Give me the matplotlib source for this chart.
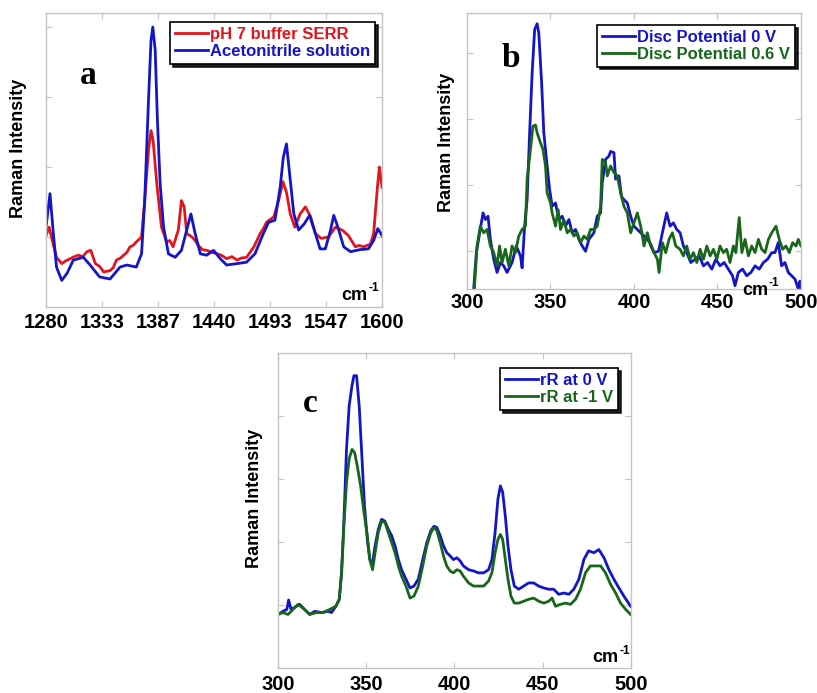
import numpy as np
import matplotlib
matplotlib.use("Agg")
import matplotlib.pyplot as plt

plt.rcParams['font.family'] = ['Liberation Sans', 'DejaVu Sans']

# ---------------- panel a ----------------
a_blue_x = [1280, 1283.8, 1287, 1290, 1295, 1300, 1306, 1315.6, 1322, 1331, 1341, 1350.5, 1357,
            1366, 1371, 1374, 1377.6, 1380, 1381.7, 1384, 1386, 1388.7, 1392, 1396.6, 1403, 1409,
            1414, 1418, 1422, 1427, 1433, 1439.5, 1446, 1452, 1462, 1471, 1479, 1487, 1492, 1498,
            1503, 1506, 1509, 1512, 1516, 1520.6, 1526, 1531, 1536.5, 1541, 1546, 1551, 1554, 1558,
            1563.5, 1570, 1579, 1587, 1592, 1596, 1600]
a_blue_y = [1.14, 1.62, 1.05, 0.57, 0.38, 0.48, 0.67, 0.71, 0.60, 0.43, 0.40, 0.57, 0.60,
            0.57, 0.76, 1.52, 2.95, 3.81, 4.00, 3.67, 2.71, 1.76, 1.14, 0.76, 0.71, 0.81,
            1.10, 1.33, 1.05, 0.76, 0.74, 0.81, 0.69, 0.60, 0.62, 0.64, 0.76, 1.05, 1.21, 1.24,
            1.71, 2.14, 2.33, 1.90, 1.33, 1.10, 1.19, 1.31, 1.05, 0.83, 0.83, 1.10, 1.31, 1.14,
            0.86, 0.79, 0.82, 0.83, 0.95, 1.12, 1.02]

a_red_x = [1280, 1283, 1286, 1290, 1295, 1299, 1303, 1307, 1311, 1315, 1319, 1322.6, 1327, 1331,
           1335, 1341, 1344, 1347, 1351, 1354, 1357, 1360, 1363, 1366, 1371, 1374, 1377.6, 1380,
           1382, 1385.5, 1390, 1395, 1398, 1401, 1406, 1409, 1411.6, 1414, 1419, 1422, 1425, 1429,
           1433, 1438, 1443, 1447, 1452, 1457, 1462, 1466, 1471, 1478, 1484, 1487, 1490, 1497,
           1501.5, 1505.6, 1509, 1512.6, 1517, 1522, 1527, 1532, 1536.5, 1542, 1549, 1555.5, 1562,
           1565, 1568, 1574.6, 1578, 1582.6, 1589, 1592, 1595.6, 1597.5, 1600]
a_red_y = [1.02, 1.14, 0.95, 0.71, 0.62, 0.66, 0.69, 0.72, 0.74, 0.72, 0.79, 0.81, 0.62, 0.58,
           0.50, 0.52, 0.56, 0.67, 0.70, 0.74, 0.78, 0.86, 0.88, 0.93, 1.00, 1.52, 2.24, 2.52,
           2.38, 1.76, 1.14, 0.93, 0.95, 0.86, 1.10, 1.52, 1.43, 1.05, 1.00, 0.95, 0.88, 0.82,
           0.81, 0.78, 0.76, 0.74, 0.69, 0.72, 0.67, 0.70, 0.71, 0.86, 1.05, 1.12, 1.21, 1.29,
           1.52, 1.79, 1.64, 1.33, 1.14, 1.33, 1.43, 1.29, 1.05, 0.98, 1.00, 1.14, 1.10,
           1.06, 1.02, 0.86, 0.88, 0.86, 0.90, 1.05, 1.71, 2.00, 1.71]

# ---------------- panel b ----------------
b_blue_x = [304, 305.6, 307.6, 309.6, 311, 312.6, 314, 316, 318, 320, 322, 324, 327, 329.5, 332,
            333, 334.5, 336, 337.5, 339, 340.5, 342, 343, 344.7, 346, 348, 349.5, 351, 353, 355,
            357, 359, 361, 363, 365, 367, 369, 371, 373, 376, 378, 380, 381, 383, 385, 386, 388,
            389, 391, 392.5, 394, 396, 398, 400, 402, 404, 406, 408, 410, 412, 414.7, 417, 419.6,
            421.6, 423.6, 425.6, 427.6, 429.6, 431.6, 434, 436.6, 439, 441.6, 444, 446.6, 449,
            451.5, 454, 456.5, 459, 460.5, 462.5, 465, 467.5, 470, 472.5, 475, 477.5, 480, 482.5,
            484.4, 486.4, 488.4, 490.4, 492.4, 494.4, 496.4, 498.4, 499.4, 500]
b_blue_y = [0.43, 0.98, 1.28, 1.58, 1.48, 1.53, 1.18, 0.88, 0.68, 0.83, 0.78, 0.68, 0.83, 1.08, 0.93,
            0.75, 1.38, 1.78, 2.79, 3.69, 4.35, 4.44, 4.30, 3.54, 2.79, 2.29, 1.93, 1.68, 1.73, 1.48,
            1.53, 1.38, 1.48, 1.28, 1.33, 1.18, 1.08, 1.00, 1.18, 1.28, 1.53, 1.58, 2.04, 2.39, 2.44,
            2.51, 2.49, 2.09, 2.14, 1.83, 1.78, 1.73, 1.53, 1.38, 1.33, 1.28, 1.23, 1.18, 1.11,
            0.98, 1.00, 1.28, 1.58, 1.38, 1.43, 1.33, 1.28, 1.08, 0.98, 0.83, 0.88, 0.93, 0.78,
            0.83, 0.73, 0.88, 0.78, 0.83, 0.73, 0.63, 0.48, 0.68, 0.73, 0.63, 0.68, 0.78, 0.73,
            0.83, 0.88, 0.98, 0.98, 1.13, 0.78, 0.83, 0.68, 0.63, 0.58, 0.43, 0.55, 0.43]

b_green_x = [304.4, 306, 308, 310, 312, 314, 316, 318, 319.5, 321, 323, 325, 327, 329, 331, 333, 335,
             336, 338, 339.5, 341, 342, 344, 345.5, 347, 348, 350, 351, 353, 354.6, 356, 358, 360,
             362, 364, 366, 368, 370, 372, 374, 376, 378, 380, 381, 383, 384, 386, 388, 390, 392,
             394, 396, 398, 400, 402, 404, 406, 408, 410, 412, 414, 415, 417, 419, 421, 423, 425,
             427.6, 429.6, 431.6, 433.6, 435.6, 437.6, 439.6, 441.6, 443.6, 445.6, 447.6, 449.6,
             451.5, 453.5, 455.5, 457.5, 459.5, 461, 463, 464.6, 466.5, 468.5, 470.5, 472.5, 474.5,
             476.5, 478.5, 480.5, 482.5, 485, 487, 489, 491, 493, 495, 497, 498.4, 500]
b_green_y = [0.43, 1.08, 1.38, 1.28, 1.33, 1.08, 0.98, 0.78, 1.08, 0.83, 1.03, 0.78, 1.08, 0.98, 1.23,
             1.33, 1.38, 2.09, 2.54, 2.89, 2.91, 2.79, 2.64, 2.54, 2.29, 1.88, 1.73, 1.58, 1.38,
             1.63, 1.33, 1.48, 1.28, 1.33, 1.23, 1.28, 1.13, 1.23, 1.18, 1.33, 1.33, 1.38, 1.68,
             2.39, 2.34, 2.14, 2.29, 2.19, 2.14, 1.88, 1.68, 1.58, 1.28, 1.43, 1.58, 1.38, 1.08,
             1.28, 1.08, 0.98, 0.88, 0.68, 1.13, 0.98, 1.18, 1.28, 1.08, 1.03, 0.93, 1.08, 0.88,
             0.98, 0.83, 1.03, 0.88, 1.08, 0.93, 1.03, 0.88, 1.08, 0.98, 1.03, 0.83, 1.08, 0.98,
             1.51, 0.98, 1.18, 0.93, 1.08, 0.98, 1.18, 1.03, 0.98, 1.18, 1.28, 1.38, 1.18, 1.03,
             1.08, 0.98, 1.13, 1.08, 1.18, 1.08]

# ---------------- panel c ----------------
c_blue_x = [300, 302.8, 305, 306, 307.4, 310.4, 312.3, 315, 318, 320.8, 324.6, 328.4, 330.3, 332.8,
            334.7, 336, 337.3, 338.8, 340.3, 341.9, 343, 344.5, 346, 347.5, 349, 350.6, 352, 353.6,
            355, 356.8, 358.7, 360.6, 362.5, 364.4, 366.3, 368.2, 370, 372.5, 374.8, 377, 379.5,
            382, 384.3, 386.6, 388.4, 390, 391.9, 393.75, 395.6, 397.5, 399.4, 401.3, 403.2, 405,
            408, 410.8, 413.6, 416.5, 419.3, 421.2, 423, 424.6, 426, 427.3, 428.8, 430.3, 432,
            433.9, 436.4, 439.2, 442, 444.9, 447.7, 450.6, 453.4, 456.25, 459, 462, 464.8, 467.6,
            470.5, 473.3, 476, 479, 481.8, 484.7, 487.5, 490.3, 493.2, 496, 499.8]
c_blue_y = [0.85, 0.90, 0.93, 1.08, 0.93, 0.98, 1.01, 0.93, 0.85, 0.90, 0.88, 0.90, 0.88, 0.98,
            1.09, 1.51, 2.31, 3.47, 4.16, 4.48, 4.64, 4.64, 4.16, 3.37, 2.57, 2.04, 1.72, 1.67,
            1.94, 2.20, 2.36, 2.33, 2.20, 2.10, 1.94, 1.72, 1.56, 1.41, 1.27, 1.30, 1.41,
            1.72, 1.99, 2.18, 2.25, 2.23, 2.10, 1.94, 1.83, 1.78, 1.72, 1.75, 1.70, 1.62,
            1.56, 1.54, 1.51, 1.51, 1.56, 1.72, 2.15, 2.68, 2.89, 2.79, 2.41, 1.94, 1.56,
            1.30, 1.25, 1.30, 1.35, 1.35, 1.30, 1.27, 1.25, 1.25, 1.17, 1.19, 1.17, 1.25,
            1.41, 1.72, 1.86, 1.83, 1.88, 1.75, 1.56, 1.41, 1.27, 1.14, 0.98]

c_green_x = [300, 302.8, 305.7, 308.5, 311.4, 314.2, 318, 321.8, 325.6, 329.4, 332.8, 334.7, 336,
             337.3, 338.8, 340.3, 341.9, 343.4, 344.9, 346.8, 348.7, 350.6, 352, 353.6, 355, 356.8,
             358.7, 360.6, 362.5, 364.4, 366.3, 368.2, 370, 372.5, 374.8, 377, 379.5, 382, 384.3,
             386.6, 388.4, 390, 391.9, 393.75, 395.6, 397.5, 399.4, 401.3, 403.2, 405, 408, 410.8,
             413.6, 416.5, 419.3, 421.2, 423, 424.6, 426, 427.3, 428.8, 430.3, 432, 433.9, 436.4,
             439.2, 442, 444.9, 447.7, 450.6, 453.4, 455.3, 457.2, 460, 462.9, 465.7, 468.6, 471.4,
             474.2, 477, 480, 482.8, 485.6, 488.4, 491.3, 494.1, 497, 499.8]
c_green_y = [0.85, 0.88, 0.85, 0.93, 1.01, 0.95, 0.85, 0.88, 0.88, 0.93, 0.98, 1.09, 1.51,
             2.25, 2.94, 3.32, 3.47, 3.42, 3.21, 2.89, 2.47, 2.10, 1.72, 1.56, 1.83, 2.15,
             2.33, 2.31, 2.15, 1.99, 1.83, 1.62, 1.46, 1.30, 1.11, 1.14, 1.30, 1.62, 1.94,
             2.15, 2.23, 2.18, 1.99, 1.78, 1.62, 1.54, 1.51, 1.56, 1.54, 1.46, 1.35, 1.30,
             1.30, 1.30, 1.38, 1.51, 1.83, 2.04, 2.12, 2.04, 1.72, 1.41, 1.14, 1.03, 1.03,
             1.06, 1.09, 1.11, 1.06, 1.03, 1.06, 1.11, 0.98, 1.01, 1.03, 1.01, 1.09, 1.25,
             1.51, 1.62, 1.62, 1.62, 1.51, 1.33, 1.19, 1.03, 0.93, 0.85]

RED = '#e3141b'
BLUE = '#1414c8'
GREEN = '#17661a'
SPINE = '#c4c4c4'

fig = plt.figure(figsize=(8.17, 6.93), dpi=100)
ax_a = fig.add_axes([0.0563, 0.557, 0.4113, 0.4242])
ax_b = fig.add_axes([0.5716, 0.583, 0.4088, 0.398])
ax_c = fig.add_axes([0.3403, 0.0361, 0.432, 0.4545])


def style(ax, pad):
    for s in ax.spines.values():
        s.set_color(SPINE)
        s.set_linewidth(1.0)
    ax.tick_params(direction='in', length=4, width=0.8, color=SPINE,
                   top=True, right=True, labelleft=False, pad=pad,
                   labelsize=14.5)
    for t in ax.get_xticklabels():
        t.set_fontweight('bold')


def unit_label(ax, x, y):
    # "cm" with a small "-1" superscript, right-aligned at (x, y)
    ax.annotate('-1', (x, y), xycoords='axes fraction', xytext=(0, 7),
                textcoords='offset points', ha='right', va='bottom',
                fontsize=8.5, fontweight='bold')
    ax.annotate('cm', (x, y), xycoords='axes fraction', xytext=(-8, 0),
                textcoords='offset points', ha='right', va='bottom',
                fontsize=13, fontweight='bold')


# panel a
ax_a.plot(a_red_x, a_red_y, color=RED, lw=2.0, label='pH 7 buffer SERR')
ax_a.plot(a_blue_x, a_blue_y, color=BLUE, lw=2.0, label='Acetonitrile solution')
ax_a.set_xlim(1280, 1600)
ax_a.set_ylim(0, 4.2)
a_ticks = np.linspace(1280, 1600, 7)
ax_a.set_xticks(a_ticks)
ax_a.set_xticklabels([str(int(round(t))) for t in a_ticks])
ax_a.set_yticks([1, 2, 3, 4])
style(ax_a, 4.5)
ax_a.set_ylabel('Raman Intensity', fontsize=13, fontweight='bold')
ax_a.yaxis.set_label_coords(-0.057, 0.54)
ax_a.text(0.125, 0.786, 'a', transform=ax_a.transAxes, family='Liberation Serif',
          fontsize=24, fontweight='bold', ha='center', va='center')
unit_label(ax_a, 0.99, 0.01)

# panel b
ax_b.plot(b_blue_x, b_blue_y, color=BLUE, lw=2.0, label='Disc Potential 0 V')
ax_b.plot(b_green_x, b_green_y, color=GREEN, lw=2.0, label='Disc Potential 0.6 V')
ax_b.set_xlim(300, 500)
ax_b.set_ylim(0.43, 4.6)
ax_b.set_xticks([300, 350, 400, 450, 500])
ax_b.set_yticks([1, 2, 3, 4])
style(ax_b, 3)
ax_b.set_ylabel('Raman Intensity', fontsize=13, fontweight='bold')
ax_b.yaxis.set_label_coords(-0.036, 0.53)
ax_b.text(0.132, 0.837, 'b', transform=ax_b.transAxes, family='Liberation Serif',
          fontsize=24, fontweight='bold', ha='center', va='center')
unit_label(ax_b, 0.935, -0.035)

# panel c
ax_c.plot(c_blue_x, c_blue_y, color=BLUE, lw=2.0, label='rR at 0 V')
ax_c.plot(c_green_x, c_green_y, color=GREEN, lw=2.0, label='rR at -1 V')
ax_c.set_xlim(300, 500)
ax_c.set_ylim(0, 5)
ax_c.set_xticks([300, 350, 400, 450, 500])
ax_c.set_yticks([1, 2, 3, 4])
style(ax_c, 5)
ax_c.set_ylabel('Raman Intensity', fontsize=13, fontweight='bold')
ax_c.yaxis.set_label_coords(-0.042, 0.54)
ax_c.text(0.09, 0.841, 'c', transform=ax_c.transAxes, family='Liberation Serif',
          fontsize=24, fontweight='bold', ha='center', va='center')
unit_label(ax_c, 0.997, 0.005)

legend_anchor = {ax_a: (0.979, 0.969), ax_b: (0.982, 0.957), ax_c: (0.963, 0.952)}
for ax, anchor in legend_anchor.items():
    leg = ax.legend(loc='upper right', bbox_to_anchor=anchor, fancybox=False,
                    framealpha=1, edgecolor='black', shadow={'color': 'black', 'alpha': 0.85},
                    handlelength=2.0, handletextpad=0.1, labelspacing=0.1,
                    borderpad=0.3, borderaxespad=0, labelcolor='linecolor',
                    prop={'weight': 'bold', 'size': 12})
    leg.get_frame().set_linewidth(1.2)

fig.savefig('out.png', dpi=100)
